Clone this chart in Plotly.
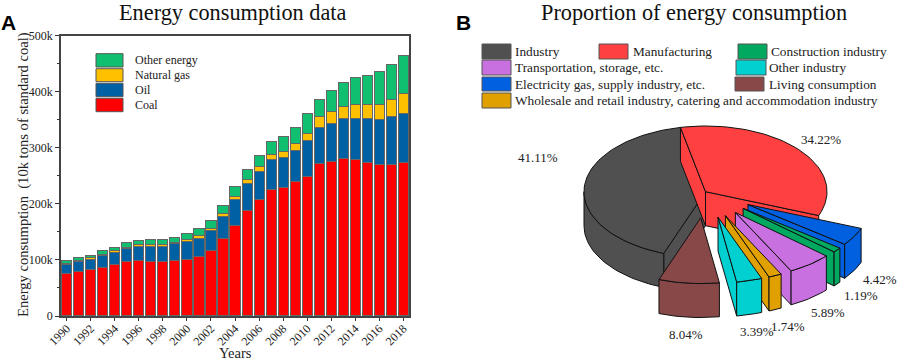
import math
import plotly.graph_objects as go

W, H = 906, 363
SERIF = "Liberation Serif"
SANS = "Liberation Sans"

years = list(range(1990, 2019))
coal = [75, 79, 82.5, 86, 92, 98, 99, 97, 96.5, 99, 100.7, 106, 116.2, 138, 161.7, 189, 207.4, 225.8, 229.2, 240.7, 249.6, 271.7, 275.5, 280.9, 279.3, 273.8, 270.3, 270.9, 273.8]
oil = [17, 18, 18.5, 22, 22, 22, 25, 27.5, 28, 30, 32.3, 33, 36.3, 40, 45.8, 47, 50.6, 53.2, 53.8, 55.3, 62.9, 65.3, 68.5, 71.1, 73.7, 78.7, 80.7, 84.1, 87.7]
gas = [2.5, 2.5, 2.5, 2.5, 2.5, 3, 3, 3, 3, 2.5, 3, 4, 3, 4, 5, 7, 8, 9, 11, 11.5, 13.5, 18, 20, 22.5, 24, 25, 26.5, 31, 36]
other = [4.2, 4.3, 5.2, 5.5, 6.2, 8.2, 8.2, 8.4, 8.7, 9.1, 11, 12.5, 14.1, 15.1, 17.8, 18.4, 20.5, 23.4, 26.6, 28.6, 34.6, 32, 38.1, 42.4, 48.8, 52.4, 58.3, 62.5, 66.5]
energy_names = ["Coal", "Oil", "Natural gas", "Other energy"]
energy_colors = ["#FF0000", "#0060A4", "#FFC000", "#10C070"]
y_ticks = [0, 100, 200, 300, 400, 500]
y_labels = ["0", "100k", "200k", "300k", "400k", "500k"]

shares = [34.22, 4.42, 1.19, 5.89, 1.74, 3.39, 8.04, 41.11]
share_names = ["Manufacturing", "Electricity gas, supply industry, etc.", "Construction industry",
               "Transportation, storage, etc.", "Wholesale and retail industry, catering and accommodation industry",
               "Other industry", "Living consumption", "Industry"]
share_colors = ["#FF4040", "#0060E0", "#00A860", "#C870E0", "#E0A000", "#00D0D0", "#884848", "#505050"]
exploded = [False, True, True, True, True, True, True, False]

fig = go.Figure()
px = lambda x: x / W
py = lambda y: 1 - y / H

# ---------- A: stacked bars ----------
for name, vals, col in zip(energy_names, [coal, oil, gas, other], energy_colors):
    fig.add_trace(go.Bar(x=years, y=vals, name=name, width=0.84, marker=dict(color=col, line=dict(color="#666666", width=1)),
                         showlegend=False, xaxis="x", yaxis="y"))

# ---------- B: exploded pseudo-3D pie, geometry derived from the shares ----------
CX, CY, RX, RY, DEPTH = 705.5, 191.7, 121.5, 65.7, 34
EXPLODE = 0.4
START = -11.9
P_L, P_R, P_T, P_B = 560, 906, 110, 363
xr = [(P_L - CX) / RX, (P_R - CX) / RX]
yr = [(P_B - CY) / RY, (P_T - CY) / RY]


def pt(t, off=(0, 0), r=1.0, drop=0.0):
    a = math.radians(t)
    return off[0] + r * math.sin(a), off[1] - r * math.cos(a) + drop


def arc(t1, t2, off, drop=0.0):
    n = max(2, int(abs(t2 - t1) / 2) + 2)
    return [pt(t1 + (t2 - t1) * i / (n - 1), off, 1.0, drop) for i in range(n)]


def poly(points, color):
    xs = [p[0] for p in points] + [points[0][0]]
    ys = [p[1] for p in points] + [points[0][1]]
    fig.add_trace(go.Scatter(x=xs, y=ys, mode="lines", fill="toself", fillcolor=color,
                             line=dict(color="#111111", width=1), showlegend=False, hoverinfo="skip",
                             xaxis="x2", yaxis="y2"))


D = DEPTH / RY
spans = []
t = START
for s in shares:
    spans.append((t, t + s * 3.6))
    t += s * 3.6

order = [7, 0, 1, 2, 3, 4, 5, 6]
for i in order:
    t1, t2 = spans[i]
    col = share_colors[i]
    off = (0, 0)
    if exploded[i]:
        m = math.radians((t1 + t2) / 2)
        off = (EXPLODE * math.sin(m), -EXPLODE * math.cos(m))
    if math.sin(math.radians(t2)) > 0:
        e = pt(t2, off)
        poly([off, e, (e[0], e[1] + D), (off[0], off[1] + D)], col)
    if math.sin(math.radians(t1)) < 0:
        e = pt(t1, off)
        poly([off, e, (e[0], e[1] + D), (off[0], off[1] + D)], col)
    lo = t1 + 360 if t1 < 0 else t1
    hi = lo + (t2 - t1)
    a, b = max(lo, 90), min(hi, 270)
    if a < b:
        poly(arc(a, b, off) + arc(b, a, off, D), col)
    poly([off] + arc(t1, t2, off), col)

# ---------- text and custom legends ----------
ann = []
shapes = []


def text(x, y, s, size=13, font=SERIF, anchor="left", color="#222222", angle=0):
    ann.append(dict(x=px(x), y=py(y), xref="paper", yref="paper", text=s, showarrow=False, xanchor=anchor,
                    yanchor="middle", textangle=angle, borderpad=0, borderwidth=0,
                    font=dict(family=font, size=size, color=color)))


def swatch(x0, y0, x1, y1, color):
    shapes.append(dict(type="rect", xref="paper", yref="paper", x0=px(x0), x1=px(x1), y0=py(y0), y1=py(y1),
                       fillcolor=color, line=dict(color="#555555", width=1)))


text(233.5, 12, "Energy consumption data", 22.3, anchor="center", color="#111111")
text(694, 12, "Proportion of energy consumption", 22.3, anchor="center", color="#111111")
text(1, 23, "<b>A</b>", 21, SANS, color="#000000")
text(456, 23, "<b>B</b>", 21, SANS, color="#000000")
text(235, 353, "Years", 14.5, anchor="center")
text(23, 175, "Energy consumption\u00a0\u00a0(10k tons of standard coal)", 14.6, anchor="center", angle=-90)

leg_rows = [(53.7, 67), (68.7, 81.7), (83.3, 96.7), (98.3, 111.7)]
for (y0, y1), idx in zip(leg_rows, [3, 2, 1, 0]):
    swatch(96, y0, 123, y1, energy_colors[idx])
    text(135, (y0 + y1) / 2, energy_names[idx], 12)

legend_layout = {7: (482, 511, 44, 59, 515), 0: (599, 628, 44, 59, 633), 2: (738, 767, 44, 59, 771),
                 3: (482, 511, 60, 75, 515), 5: (736, 766, 60, 75, 769),
                 1: (482, 511, 77, 91, 515), 6: (735, 764, 77, 91, 769),
                 4: (482, 511, 93, 108, 515)}
for i, (x0, x1, y0, y1, tx) in legend_layout.items():
    swatch(x0, y0, x1, y1, share_colors[i])
    text(tx, (y0 + y1) / 2, share_names[i], 13.3)

label_pos = {7: (538, 158), 0: (821, 139), 1: (880, 279), 2: (861, 295), 3: (828, 312), 4: (788, 326), 5: (757, 331), 6: (686, 334)}
for i, (x, y) in label_pos.items():
    text(x, y, f"{shares[i]:.2f}%", 13, anchor="center")

axis_font = dict(family=SERIF, size=12, color="#222222")
fig.update_layout(
    width=W, height=H, autosize=False, margin=dict(l=0, r=0, t=0, b=0), barmode="stack",
    paper_bgcolor="white", plot_bgcolor="white", annotations=ann, shapes=shapes, showlegend=False,
    xaxis=dict(domain=[px(61), px(409.3)], range=[1989.52, 2018.5], tickvals=years[::2], tickangle=-45, tickfont=axis_font,
               ticks="outside", ticklen=3, tickcolor="#333333", showline=True, mirror=True, linecolor="#444444", linewidth=1.5,
               ticklabelstandoff=-4, showgrid=False, zeroline=False, automargin=False, anchor="y"),
    yaxis=dict(domain=[py(316), py(35.7)], range=[0, 500], tickvals=y_ticks, ticktext=y_labels, tickfont=axis_font,
               ticks="outside", ticklen=4, tickcolor="#333333", showline=True, mirror=True, linecolor="#444444", linewidth=1.5,
               showgrid=False, zeroline=False, automargin=False, anchor="x",
               minor=dict(dtick=50, ticks="outside", ticklen=2, tickcolor="#333333")),
    xaxis2=dict(domain=[px(P_L), px(P_R)], range=xr, visible=False, anchor="y2", fixedrange=True),
    yaxis2=dict(domain=[py(P_B), py(P_T)], range=yr, visible=False, anchor="x2", fixedrange=True),
)
fig.write_html("out.html", config={"displayModeBar": False},
               post_script="document.body.style.margin='0';document.documentElement.style.overflow='hidden';")
